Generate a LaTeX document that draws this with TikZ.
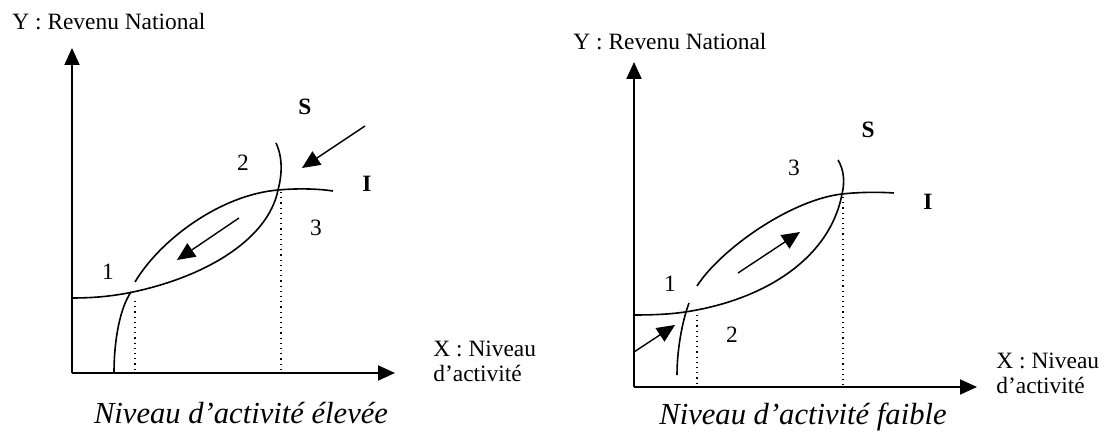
\documentclass[tikz,border=0pt]{standalone}
\usepackage{fontspec}
\setmainfont{Liberation Serif}
\usetikzlibrary{arrows.meta}

\begin{document}
\begin{tikzpicture}[
  x=0.5pt, y=-0.5pt,
  axis/.style={line width=1pt, -{Triangle[length=8.5pt, width=7.5pt]}},
  curve/.style={line width=0.8pt},
  guide/.style={dotted, line width=0.6pt},
  flow/.style={line width=0.7pt, -{Triangle[length=9pt, width=8pt]}},
  lbl/.style={font=\fontsize{11.7}{12.5}\selectfont, inner sep=0pt},
  caption/.style={font=\fontsize{15.3}{17}\selectfont\itshape, inner sep=0pt, anchor=base}
]
\useasboundingbox (0,0) rectangle (1102,432);

% left : niveau eleve
\coordinate (oL) at (72,373);
\coordinate (yL) at (72,48);
\coordinate (xL) at (395,373);
\coordinate (eqLa) at (131,292);
\coordinate (eqLb) at (278,190);
\coordinate (inLa) at (239,218);
\coordinate (inLb) at (177,260);
\coordinate (outLa) at (365,126);
\coordinate (outLb) at (302,168);

\draw[axis] (oL) -- (yL);
\draw[axis] (oL) -- (xL);
\draw[curve] (72,298) .. controls (95,298) and (112,296) .. (128,293)
  .. controls (204,278) and (268,240) .. (eqLb)
  .. controls (282,175) and (283,158) .. (276,143);
\draw[curve] (135,282) .. controls (160,240) and (220,195) .. (eqLb)
  .. controls (300,188) and (320,189) .. (333,191);
\draw[curve] (114,373) .. controls (114,340) and (120,308) .. (eqLa);
\draw[guide] (135,301) -- (135,373);
\draw[guide] (281,192) -- (281,373);
\draw[flow] (inLa) -- (inLb);
\draw[flow] (outLa) -- (outLb);

\node[lbl, anchor=west] (yLabL) at (12,22) {Y : Revenu National};
\node[lbl, anchor=west, align=left] (xLabL) at (433,361) {X : Niveau\\d'activité};
\node[lbl] (sL) at (305,107) {\textbf{S}};
\node[lbl] (iL) at (367,184) {\textbf{I}};
\node[lbl] (oneL) at (108,272) {1};
\node[lbl] (twoL) at (243,163) {2};
\node[lbl] (threeL) at (316,228) {3};
\node[caption] (capL) at (241,423) {Niveau d'activité élevée};

% right : niveau faible
\coordinate (oR) at (634,387);
\coordinate (yR) at (634,62);
\coordinate (xR) at (977,387);
\coordinate (eqRa) at (689,303);
\coordinate (eqRb) at (842,194);
\coordinate (inRa) at (738,273);
\coordinate (inRb) at (800,232);
\coordinate (outRa) at (634,352);
\coordinate (outRb) at (675,325);

\draw[axis] (oR) -- (yR);
\draw[axis] (oR) -- (xR);
\draw[curve] (634,315) .. controls (655,315) and (672,314) .. (685,312)
  .. controls (765,300) and (830,258) .. (eqRb)
  .. controls (845,182) and (844,170) .. (838,160);
\draw[curve] (697,286) .. controls (720,250) and (790,200) .. (eqRb)
  .. controls (860,192) and (880,192) .. (894,193);
\draw[curve] (677,375) .. controls (677,350) and (682,322) .. (eqRa);
\draw[guide] (697,315) -- (697,387);
\draw[guide] (843,197) -- (843,387);
\draw[flow] (inRa) -- (inRb);
\draw[flow] (outRa) -- (outRb);

\node[lbl, anchor=west] (yLabR) at (573,42) {Y : Revenu National};
\node[lbl, anchor=west, align=left] (xLabR) at (996,373) {X : Niveau\\d'activité};
\node[lbl] (sR) at (868,130) {\textbf{S}};
\node[lbl] (iR) at (928,202) {\textbf{I}};
\node[lbl] (oneR) at (670,284) {1};
\node[lbl] (twoR) at (732,335) {2};
\node[lbl] (threeR) at (794,168) {3};
\node[caption] (capR) at (803,424) {Niveau d'activité faible};
\end{tikzpicture}
\end{document}
